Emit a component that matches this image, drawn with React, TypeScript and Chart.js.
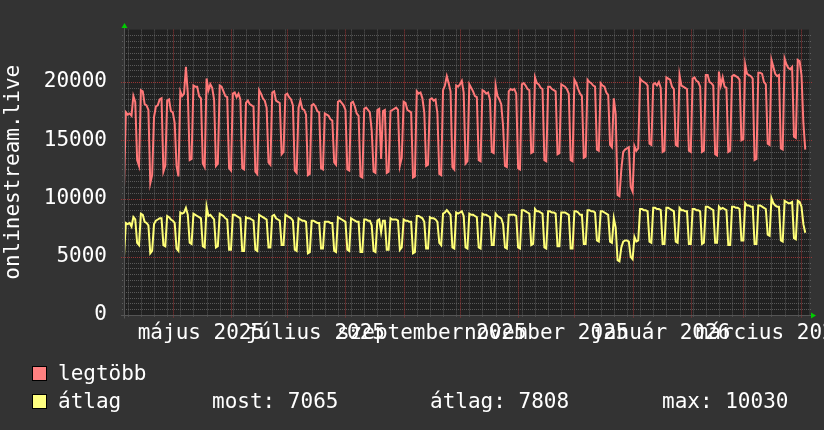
import React, { useEffect, useRef } from 'react';
import { Chart, registerables } from 'chart.js';

Chart.register(...registerables);

const FONT_FAMILY = '"DejaVu Sans Mono", monospace';

// x axis: days since 5 April 2025 (Saturday)
const DAY_SPAN = 365;
const monthStartDays = [26, 57, 87, 118, 149, 179, 210, 240, 271, 302, 330, 361];
const firstMondayDay = 2;
const xLabelDays = [41, 102, 164, 225, 286, 345];
const xLabels = ['május 2025', 'július 2025', 'szeptember 2025', 'november 2025', 'január 2026', 'március 2026'];

// y axis
const Y_MAX = 24500;
const yTickValues = [0, 5000, 10000, 15000, 20000];
const Y_MINOR = 500;

const yTitle = 'onlinestream.live';
const seriesNames = ['legtöbb', 'átlag'];
const statLabels = ['most: 7065', 'átlag: 7808', 'max: 10030'];

// daily values, from day 0 (Sat) ; weeks Mon..Sun
const legtobb = [
  10900, 17400,
  17200, 17300, 17100, 18800, 18300, 13300, 12800,
  19300, 19200, 18100, 18000, 17600, 11300, 12000,
  17000, 17900, 18000, 18500, 18600, 12300, 12800,
  18400, 18500, 17500, 17400, 16500, 12800, 11900,
  19200, 18800, 19000, 21300, 19000, 13300, 13400,
  19700, 19600, 19600, 18800, 18600, 13000, 12700,
  20300, 19300, 19800, 19500, 18500, 12800, 13000,
  19700, 19600, 19200, 18800, 18700, 12600, 12400,
  19000, 19100, 18700, 19000, 18500, 12600, 12500,
  18200, 18400, 18100, 18000, 17900, 12300, 12100,
  19300, 19000, 18600, 18400, 17800, 13100, 12900,
  19100, 19200, 18400, 18300, 18200, 13800, 14000,
  18900, 19000, 18700, 18500, 18000, 12400, 12200,
  17800, 18400, 17700, 17600, 17200, 12000, 12100,
  18000, 18100, 17900, 17500, 17400, 12600, 12500,
  17300, 17200, 17100, 16800, 16700, 13100, 12900,
  18300, 18400, 18200, 18000, 17600, 12500, 12400,
  18200, 18300, 17900, 17300, 17100, 11900, 11800,
  17700, 17800, 17600, 17400, 15800, 12300, 12200,
  17600, 17700, 13400, 17500, 17600, 12200, 12300,
  17500, 17600, 17700, 17800, 17600, 12800, 13500,
  18300, 18200, 17600, 17500, 17400, 11800, 11900,
  19200, 19000, 19100, 18600, 17400, 12800, 12900,
  18500, 18600, 18400, 18500, 17300, 12100, 12000,
  19300, 19700, 20500, 19900, 19200, 12700, 12500,
  19700, 19600, 19800, 20100, 19100, 13000, 13200,
  19800, 19500, 19200, 18800, 18700, 13300, 13200,
  19300, 19200, 19000, 19100, 18500, 14000, 13900,
  19700, 18800, 18500, 18100, 16200, 12800, 12700,
  19200, 19400, 19300, 19400, 19000, 12600, 12500,
  19800, 19900, 19700, 19400, 19300, 13900, 14000,
  20400, 19900, 19800, 19500, 19400, 13300, 13200,
  19600, 19600, 19400, 19300, 19200, 13800, 13900,
  19800, 19700, 19600, 19400, 19000, 13300, 13200,
  20200, 19900, 19400, 19000, 18800, 13500, 13600,
  20200, 20000, 19900, 19700, 19600, 14200, 14100,
  19900, 19700, 19600, 19100, 18900, 14600, 14400,
  18600, 17200, 10300, 10200, 12500, 14000, 14200,
  14300, 14400, 11000, 10600, 14500, 14100, 14300,
  20300, 20100, 20000, 19900, 19700, 14700, 14600,
  19800, 19900, 19700, 20000, 19500, 14000, 14100,
  20400, 20300, 20200, 19600, 19400, 14600, 14500,
  20600, 19700, 19600, 19500, 19400, 14100, 14000,
  20300, 20400, 20100, 20000, 19600, 14000, 14100,
  20600, 20600, 20000, 19900, 19700, 13800, 13700,
  20900, 19700, 20400, 19600, 19500, 14000, 14100,
  20500, 20600, 20500, 20400, 20200, 15000, 15100,
  21500, 20700, 20600, 20500, 20300, 13300, 13400,
  20800, 20800, 20700, 20000, 19800, 14700, 14600,
  21900, 21300, 20700, 20500, 20600, 14300, 14200,
  22000, 21500, 21200, 21100, 21300, 15300, 15200,
  21900, 21800, 20600, 16500, 14200,
];

const atlag = [
  5000, 7900,
  7800, 7900, 7600, 8400, 8200, 6200, 6000,
  8700, 8600, 8000, 7900, 7700, 5300, 5500,
  7800, 8100, 8200, 8300, 8300, 6000, 5900,
  8500, 8400, 8200, 8100, 7900, 5700, 5500,
  8800, 8700, 8800, 9200, 8600, 6200, 6100,
  8700, 8600, 8500, 8400, 8300, 5900, 5800,
  9300, 8500, 8600, 8400, 8200, 5800, 5900,
  8700, 8600, 8500, 8300, 8200, 5600, 5600,
  8600, 8600, 8500, 8400, 8300, 5500, 5500,
  8400, 8300, 8300, 8200, 8100, 5600, 5500,
  8600, 8500, 8400, 8300, 8200, 5800, 5800,
  8500, 8600, 8300, 8200, 8100, 6000, 6000,
  8600, 8500, 8400, 8300, 8100, 5600, 5500,
  8300, 8200, 8100, 8100, 8000, 5300, 5400,
  8100, 8100, 8000, 7900, 7900, 5700, 5700,
  8000, 8000, 8000, 7900, 7900, 5500, 5400,
  8400, 8300, 8200, 8100, 8000, 5600, 5500,
  8300, 8200, 8100, 8000, 8000, 5400, 5400,
  8200, 8200, 8100, 8100, 7700, 5500, 5400,
  8100, 8200, 7100, 8100, 8100, 5600, 5600,
  8300, 8200, 8200, 8200, 8100, 5600, 5800,
  8200, 8100, 8100, 8000, 8000, 5300, 5400,
  8500, 8500, 8400, 8300, 8000, 5700, 5700,
  8400, 8300, 8300, 8200, 8000, 6200, 6000,
  8700, 8800, 9000, 8800, 8600, 5800, 5700,
  8800, 8700, 8800, 8900, 8500, 5800, 5700,
  8700, 8600, 8600, 8500, 8400, 5800, 5700,
  8700, 8600, 8600, 8500, 8400, 6000, 6000,
  8700, 8500, 8400, 8300, 7800, 5800, 5700,
  8600, 8600, 8600, 8600, 8500, 5800, 5700,
  9000, 9000, 8900, 8800, 8700, 6000, 6100,
  9100, 8900, 8900, 8800, 8700, 5800, 5700,
  8900, 8900, 8800, 8800, 8700, 5900, 5900,
  8800, 8800, 8800, 8700, 8600, 5700, 5700,
  8900, 8900, 8800, 8600, 8600, 6100, 6100,
  9000, 9000, 8900, 8900, 8800, 6400, 6300,
  8900, 8900, 8800, 8700, 8600, 6300, 6200,
  8300, 7500, 4700, 4600, 5800, 6300, 6400,
  6400, 6300, 5000, 4800, 6700, 6300, 6400,
  9100, 9100, 9000, 9000, 8900, 6300, 6200,
  9200, 9200, 9100, 9100, 9000, 6100, 6100,
  9200, 9200, 9100, 9000, 8900, 6300, 6200,
  9200, 9000, 9000, 8900, 8900, 6100, 6100,
  9100, 9100, 9000, 9000, 8900, 6100, 6200,
  9300, 9300, 9200, 9100, 9000, 6200, 6200,
  9300, 9100, 9200, 9100, 9000, 6000, 6000,
  9300, 9300, 9200, 9200, 9100, 6400, 6400,
  9600, 9400, 9400, 9300, 9300, 6100, 6100,
  9400, 9400, 9300, 9200, 9100, 6900, 6800,
  10030, 9600, 9400, 9300, 9300, 6400, 6300,
  9800, 9700, 9600, 9600, 9700, 6600, 6500,
  9800, 9700, 9300, 7800, 7065,
];

const COLORS = {
  page: '#333333',
  plot: '#212121',
  minorGrid: 'rgba(125,125,125,0.6)',
  majorGrid: 'rgba(170,55,55,0.85)',
  axis: '#555555',
  arrow: '#00cc00',
  text: '#ffffff',
  red: '#ff7878',
  yellow: '#ffff78',
  redSwatch: '#ff8080',
  yellowSwatch: '#ffff80',
};

const rrdPlugin = {
  id: 'rrdLook',
  beforeDraw(chart: any) {
    const { ctx, chartArea: a, width, height } = chart;
    ctx.save();
    ctx.fillStyle = COLORS.page;
    ctx.fillRect(0, 0, width, height);
    ctx.fillStyle = COLORS.plot;
    ctx.fillRect(a.left, a.top, a.right - a.left, a.bottom - a.top);
    ctx.restore();
  },
  beforeDatasetsDraw(chart: any) {
    const { ctx, chartArea: a } = chart;
    const xs = chart.scales.x;
    const ys = chart.scales.y;
    ctx.save();
    ctx.lineWidth = 1;
    ctx.setLineDash([1, 1]);
    // minor grid: every 500 and every week (Monday)
    ctx.strokeStyle = COLORS.minorGrid;
    ctx.beginPath();
    for (let v = Y_MINOR; v < Y_MAX; v += Y_MINOR) {
      if (yTickValues.includes(v)) continue;
      const y = Math.round(ys.getPixelForValue(v)) + 0.5;
      ctx.moveTo(a.left - 2, y);
      ctx.lineTo(a.right + 2, y);
    }
    for (let d = firstMondayDay; d <= DAY_SPAN; d += 7) {
      if (monthStartDays.includes(d)) continue;
      const x = Math.round(xs.getPixelForValue(d)) + 0.5;
      ctx.moveTo(x, a.top);
      ctx.lineTo(x, a.bottom + 2);
    }
    ctx.stroke();
    // major grid: labelled values and month starts
    ctx.strokeStyle = COLORS.majorGrid;
    ctx.beginPath();
    for (const v of yTickValues) {
      if (v === 0) continue;
      const y = Math.round(ys.getPixelForValue(v)) + 0.5;
      ctx.moveTo(a.left - 3, y);
      ctx.lineTo(a.right + 3, y);
    }
    for (const d of monthStartDays) {
      const x = Math.round(xs.getPixelForValue(d)) + 0.5;
      ctx.moveTo(x, a.top);
      ctx.lineTo(x, a.bottom + 3);
    }
    ctx.stroke();
    ctx.restore();
  },
  afterDraw(chart: any) {
    const { ctx, chartArea: a } = chart;
    const xs = chart.scales.x;
    ctx.save();
    // axes
    ctx.strokeStyle = COLORS.axis;
    ctx.lineWidth = 1;
    ctx.setLineDash([]);
    ctx.beginPath();
    const ax = Math.round(a.left) + 0.5;
    const ay = Math.round(a.bottom) + 0.5;
    ctx.moveTo(ax, a.top - 2);
    ctx.lineTo(ax, ay + 3);
    ctx.moveTo(a.left - 3, ay);
    ctx.lineTo(a.right + 2, ay);
    ctx.stroke();
    // arrows
    ctx.fillStyle = COLORS.arrow;
    ctx.beginPath();
    ctx.moveTo(ax - 3, a.top - 1.5);
    ctx.lineTo(ax + 3, a.top - 1.5);
    ctx.lineTo(ax, a.top - 6.5);
    ctx.closePath();
    ctx.fill();
    ctx.beginPath();
    ctx.moveTo(a.right + 2, ay - 3);
    ctx.lineTo(a.right + 2, ay + 3);
    ctx.lineTo(a.right + 7, ay);
    ctx.closePath();
    ctx.fill();

    // x labels
    ctx.fillStyle = COLORS.text;
    ctx.font = `21px ${FONT_FAMILY}`;
    ctx.textAlign = 'center';
    ctx.textBaseline = 'alphabetic';
    xLabelDays.forEach((d, i) => {
      ctx.fillText(xLabels[i], xs.getPixelForValue(d), a.bottom + 24);
    });

    // y title
    ctx.save();
    ctx.translate(18.5, (a.top + a.bottom) / 2);
    ctx.rotate(-Math.PI / 2);
    ctx.textAlign = 'center';
    ctx.fillText(yTitle, 0, 0);
    ctx.restore();

    // legend
    const rows = [380, 408];
    const swatches = [COLORS.redSwatch, COLORS.yellowSwatch];
    ctx.textAlign = 'left';
    rows.forEach((by, i) => {
      ctx.fillStyle = swatches[i];
      ctx.fillRect(32, by - 14, 15, 15);
      ctx.strokeStyle = '#000000';
      ctx.lineWidth = 1;
      ctx.strokeRect(32.5, by - 13.5, 14, 14);
      ctx.fillStyle = COLORS.text;
      ctx.fillText(seriesNames[i], 58, by);
    });
    const statX = [212, 430, 662];
    statLabels.forEach((s, i) => ctx.fillText(s, statX[i], rows[1]));
    ctx.restore();
  },
};

export default function App() {
  const ref = useRef<HTMLCanvasElement>(null);
  useEffect(() => {
    if (!ref.current) return;
    const chart = new Chart(ref.current, {
      type: 'line',
      data: {
        datasets: [
          {
            label: seriesNames[0],
            data: legtobb.map((v, i) => ({ x: i, y: v })),
            borderColor: COLORS.red,
            borderWidth: 2,
            pointRadius: 0,
            tension: 0,
            fill: false,
          },
          {
            label: seriesNames[1],
            data: atlag.map((v, i) => ({ x: i, y: v })),
            borderColor: COLORS.yellow,
            borderWidth: 2,
            pointRadius: 0,
            tension: 0,
            fill: false,
          },
        ],
      },
      options: {
        animation: false,
        responsive: false,
        devicePixelRatio: 1,
        events: [],
        layout: { padding: { left: 0, top: 15, right: 15, bottom: 115 } },
        plugins: { legend: { display: false }, tooltip: { enabled: false }, title: { display: false } },
        scales: {
          x: { type: 'linear', min: 0, max: DAY_SPAN, display: false },
          y: {
            type: 'linear',
            min: 0,
            max: Y_MAX,
            afterFit: (s: any) => {
              s.width = 124;
            },
            afterBuildTicks: (s: any) => {
              s.ticks = yTickValues.map((v) => ({ value: v }));
            },
            grid: { display: false, drawTicks: false },
            border: { display: false },
            ticks: {
              padding: 17,
              color: COLORS.text,
              font: { family: FONT_FAMILY, size: 21 },
              callback: (v: any) => String(v),
            },
          },
        },
      } as any,
      plugins: [rrdPlugin],
    });
    return () => chart.destroy();
  }, []);
  return (
    <div style={{ position: 'fixed', left: 0, top: 0, width: 824, height: 430, background: COLORS.page }}>
      <canvas ref={ref} width={824} height={430} style={{ display: 'block' }} />
    </div>
  );
}
